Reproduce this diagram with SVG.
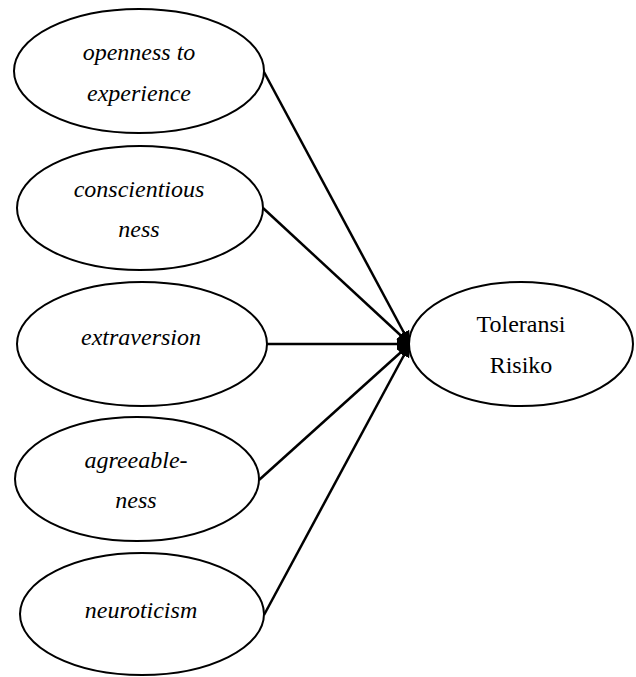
<svg xmlns="http://www.w3.org/2000/svg" width="636" height="677" viewBox="0 0 636 677">
<style>
.node ellipse{fill:#fff;stroke:#000;stroke-width:2}
.lbl{font-family:"Liberation Serif","Times New Roman",serif;font-size:24px;font-style:italic;text-anchor:middle;fill:#000}
.lbl2{font-family:"Liberation Serif","Times New Roman",serif;font-size:24px;text-anchor:middle;fill:#000}
.conn line{stroke:#000;stroke-width:2.5;marker-end:url(#ah)}
</style>
<defs>
<marker id="ah" markerUnits="userSpaceOnUse" markerWidth="14" markerHeight="12" refX="13" refY="6" orient="auto">
<path d="M0,0 L14,6 L0,12 Z" fill="#000"/>
</marker>
</defs>
<rect width="636" height="677" fill="#fff"/>
<g id="connectors" class="conn">
<line x1="264" y1="72" x2="410" y2="344"/>
<line x1="263" y1="208" x2="410" y2="344"/>
<line x1="267" y1="344" x2="410" y2="344"/>
<line x1="259" y1="480" x2="410" y2="344"/>
<line x1="264" y1="615" x2="410" y2="344"/>
</g>
<g id="openness" class="node">
<ellipse cx="139" cy="71" rx="125" ry="62"/>
<text class="lbl" x="139" y="60">openness to</text>
<text class="lbl" x="139" y="101">experience</text>
</g>
<g id="conscientiousness" class="node">
<ellipse cx="140" cy="208" rx="123" ry="62"/>
<text class="lbl" x="139" y="197">conscientious</text>
<text class="lbl" x="139" y="237">ness</text>
</g>
<g id="extraversion" class="node">
<ellipse cx="142" cy="344" rx="125" ry="62"/>
<text class="lbl" x="141" y="345">extraversion</text>
</g>
<g id="agreeableness" class="node">
<ellipse cx="137" cy="479" rx="122" ry="62"/>
<text class="lbl" x="136" y="468">agreeable-</text>
<text class="lbl" x="136" y="508">ness</text>
</g>
<g id="neuroticism" class="node">
<ellipse cx="142" cy="614" rx="122" ry="61"/>
<text class="lbl" x="141" y="618">neuroticism</text>
</g>
<g id="toleransi" class="node">
<ellipse cx="521" cy="344" rx="112" ry="62"/>
<text class="lbl2" x="521" y="332">Toleransi</text>
<text class="lbl2" x="521" y="373">Risiko</text>
</g>
</svg>
